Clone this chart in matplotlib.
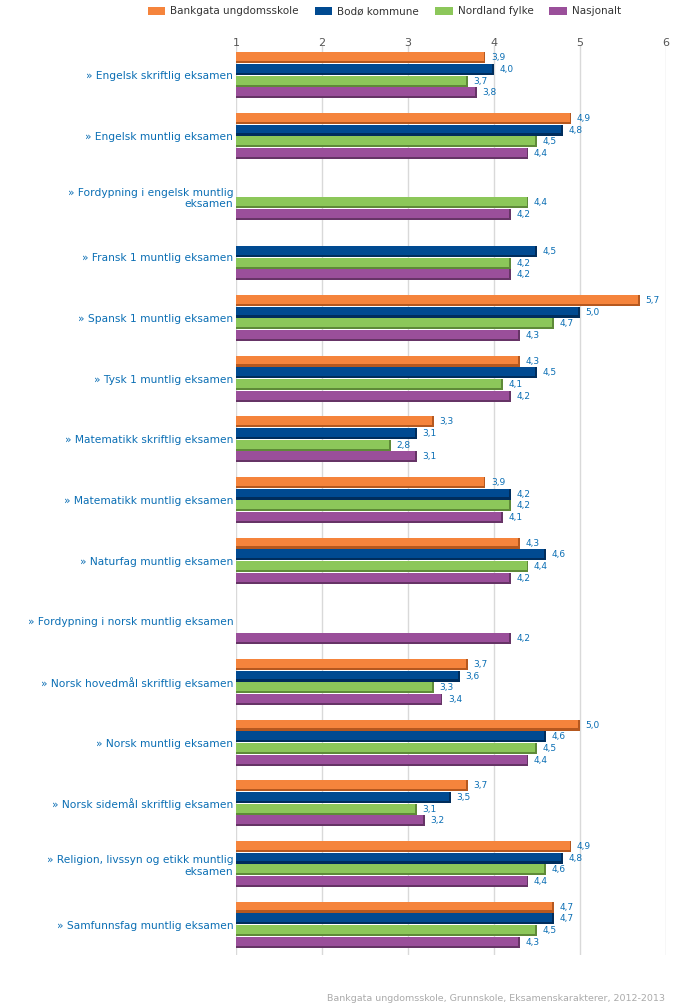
import matplotlib
matplotlib.use("Agg")
import matplotlib.pyplot as plt
from matplotlib.patches import Patch
import numpy as np

categories = [
    "» Engelsk skriftlig eksamen",
    "» Engelsk muntlig eksamen",
    "» Fordypning i engelsk muntlig\neksamen",
    "» Fransk 1 muntlig eksamen",
    "» Spansk 1 muntlig eksamen",
    "» Tysk 1 muntlig eksamen",
    "» Matematikk skriftlig eksamen",
    "» Matematikk muntlig eksamen",
    "» Naturfag muntlig eksamen",
    "» Fordypning i norsk muntlig eksamen",
    "» Norsk hovedmål skriftlig eksamen",
    "» Norsk muntlig eksamen",
    "» Norsk sidemål skriftlig eksamen",
    "» Religion, livssyn og etikk muntlig\neksamen",
    "» Samfunnsfag muntlig eksamen",
]
series_names = ["Bankgata ungdomsskole", "Bodø kommune", "Nordland fylke", "Nasjonalt"]
bankgata = [3.9, 4.9, None, None, 5.7, 4.3, 3.3, 3.9, 4.3, None, 3.7, 5.0, 3.7, 4.9, 4.7]
bodo = [4.0, 4.8, None, 4.5, 5.0, 4.5, 3.1, 4.2, 4.6, None, 3.6, 4.6, 3.5, 4.8, 4.7]
nordland = [3.7, 4.5, 4.4, 4.2, 4.7, 4.1, 2.8, 4.2, 4.4, None, 3.3, 4.5, 3.1, 4.6, 4.5]
nasjonalt = [3.8, 4.4, 4.2, 4.2, 4.3, 4.2, 3.1, 4.1, 4.2, 4.2, 3.4, 4.4, 3.2, 4.4, 4.3]
xticks = [1, 2, 3, 4, 5, 6]

series = [bankgata, bodo, nordland, nasjonalt]
colors = ["#f5843c", "#004a91", "#8cc75a", "#9a4f9a"]
dark = ["#b5581f", "#002d5c", "#5e8a38", "#663466"]

fig = plt.figure(figsize=(6.95, 10.05), dpi=100)
ax = fig.add_axes([236/695, 1-955/1005, 430/695, (955-45)/1005])

n = len(categories)
slot = 0.193
bh = 0.178
label_color = "#0a6eb4"
for j, (vals, c, dc) in enumerate(zip(series, colors, dark)):
    for i, v in enumerate(vals):
        if v is None:
            continue
        y = i + (j - 1.5) * slot
        ax.barh(y, v - 1, left=1, height=bh, color=c, edgecolor="none", zorder=3)
        ax.barh(y + bh/2 - 0.017, v - 1, left=1, height=0.034, color=dc, edgecolor="none", zorder=4)
        ax.barh(y, 0.02, left=v - 0.02, height=bh, color=dc, edgecolor="none", zorder=4)
        ax.annotate(f"{v:.1f}".replace(".", ","), xy=(v, y), xytext=(4, 0),
                    textcoords="offset points", va="center", ha="left",
                    fontsize=6.5, color=label_color)

ax.set_xlim(1, 6)
ax.set_ylim(n - 0.5, -0.5)
ax.set_xticks(xticks)
ax.xaxis.tick_top()
ax.tick_params(axis="x", length=0, pad=-2, labelsize=8, labelcolor="#555555")
ax.set_yticks(range(n))
ax.set_yticklabels(categories, fontsize=7.7, color=label_color, multialignment="right")
ax.tick_params(axis="y", length=0, pad=2)
for s in ax.spines.values():
    s.set_visible(False)
ax.grid(axis="x", color="#d9d9d9", linewidth=1, zorder=0)
ax.set_axisbelow(True)

handles = [Patch(facecolor=c, edgecolor="none") for c in colors]
fig.legend(handles, series_names, loc="upper center", bbox_to_anchor=(0.553, 1.003), ncol=4,
           frameon=False, fontsize=7.5, handlelength=1.7, handleheight=0.75,
           columnspacing=1.5, handletextpad=0.5, labelcolor="#333333")

fig.text(665/695, 1-998/1005, "Bankgata ungdomsskole, Grunnskole, Eksamenskarakterer, 2012-2013",
         ha="right", va="center", fontsize=6.8, color="#aaaaaa")

fig.savefig("out.png", dpi=100)
